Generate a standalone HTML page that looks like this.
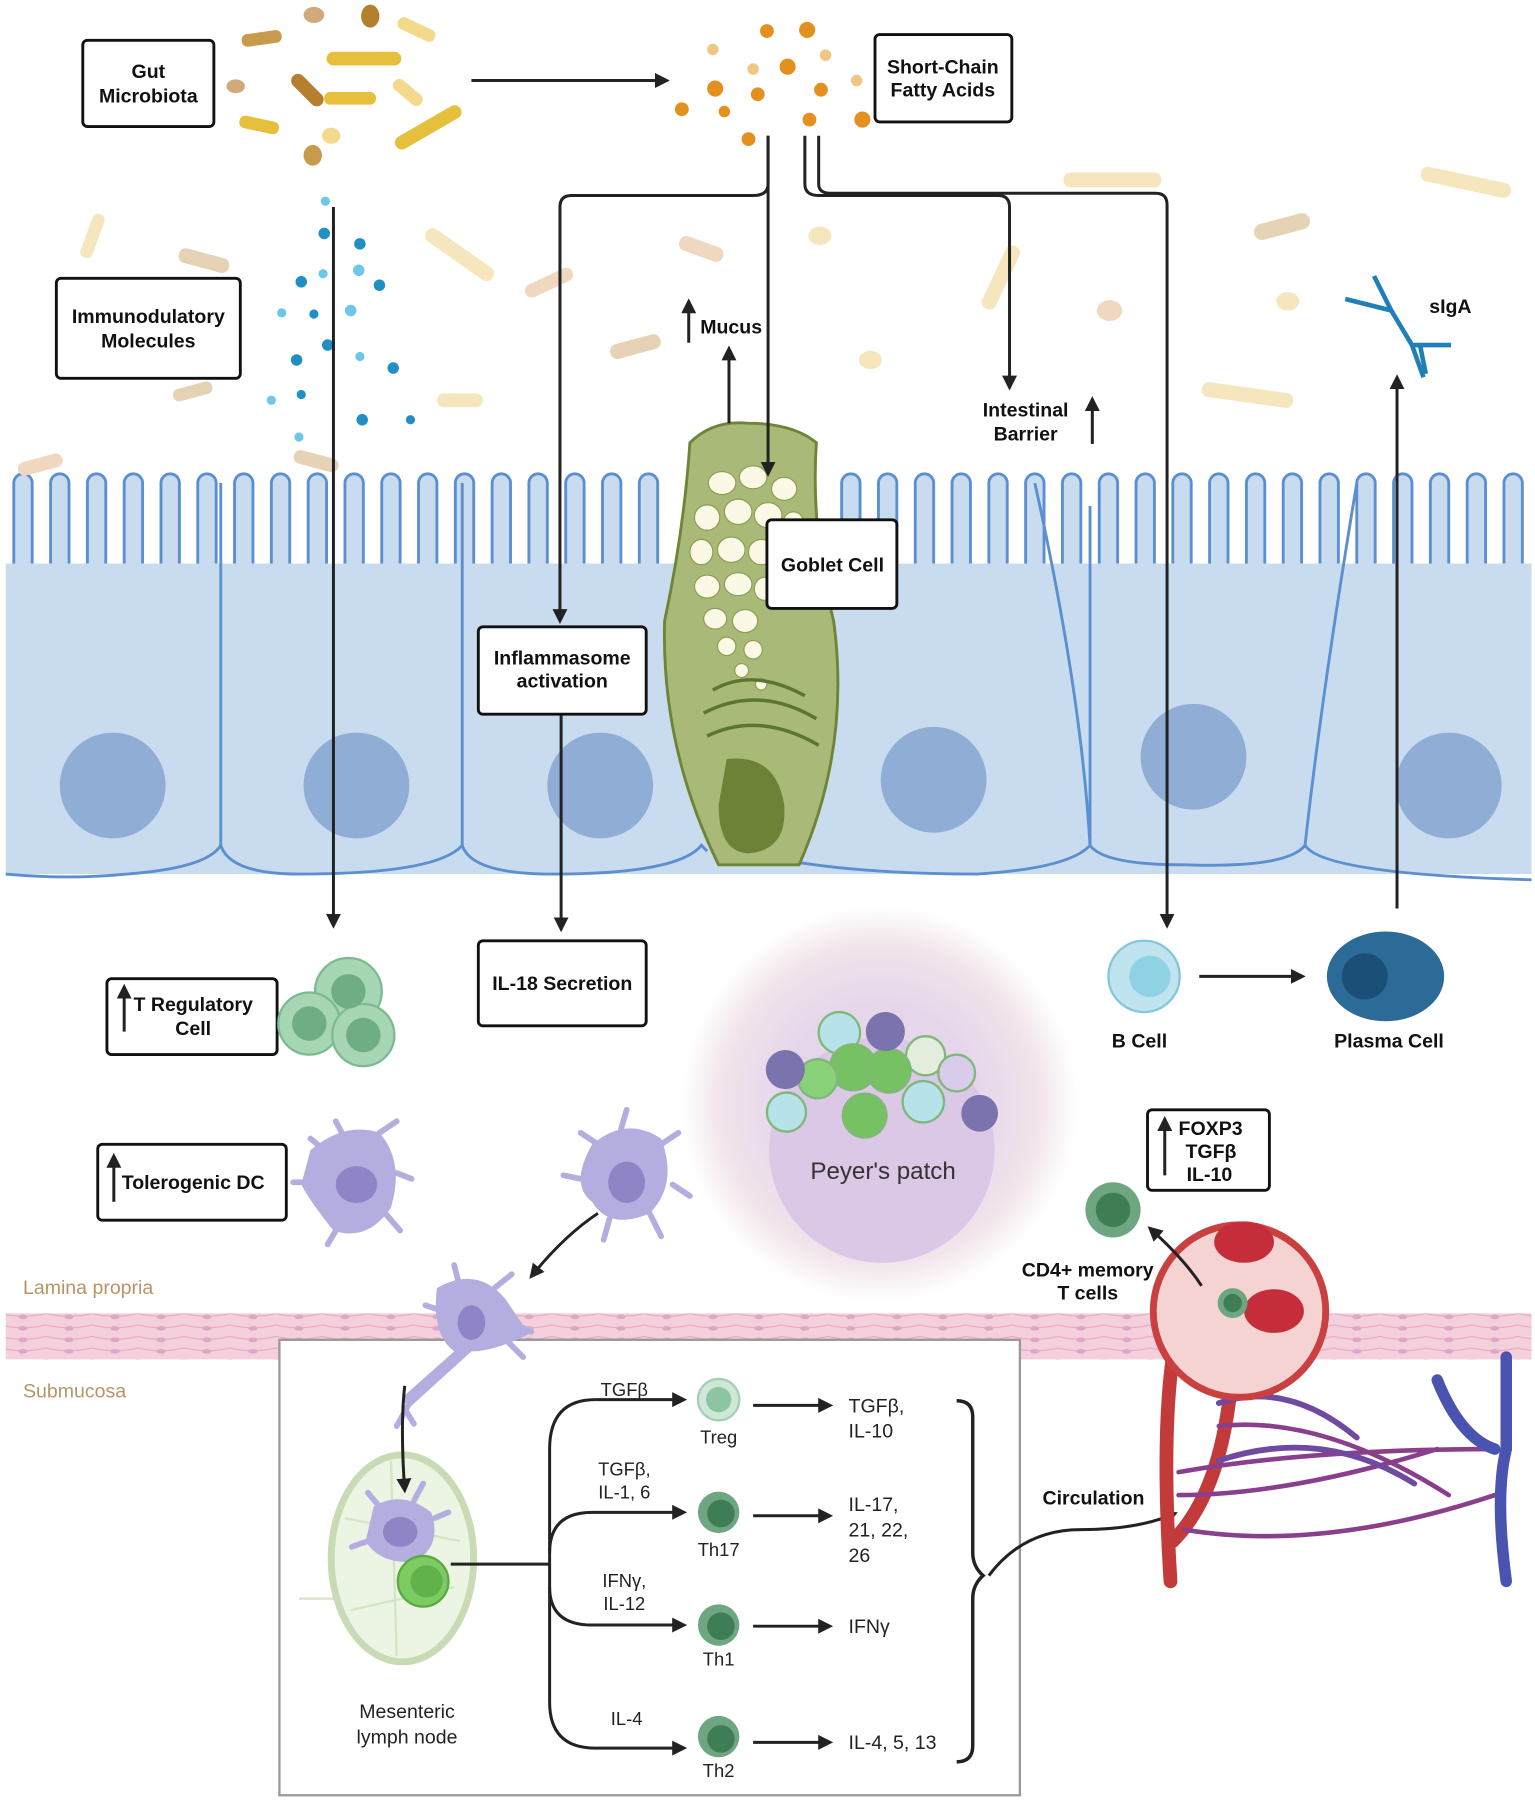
<!DOCTYPE html>
<html><head><meta charset="utf-8"><style>
html,body{margin:0;padding:0;background:#fff}
svg{display:block}
text{font-family:"Liberation Sans",sans-serif}
.b{font-weight:bold;font-size:17px;fill:#111}
.n{font-size:17px;fill:#222}
.box{fill:#fff;stroke:#111;stroke-width:2.5}
.ar{stroke:#222;stroke-width:2.6;fill:none}
.sp{stroke:#b4ade0;stroke-width:5;stroke-linecap:round;fill:none}
</style></head><body>
<svg width="1535" height="1801" viewBox="0 0 1335 1566" preserveAspectRatio="none" xmlns="http://www.w3.org/2000/svg">
<defs>
<marker id="m" viewBox="0 0 10 10" refX="8" refY="5" markerWidth="5" markerHeight="5" orient="auto"><path d="M0,0L10,5L0,10z" fill="#222"/></marker>
<pattern id="lp" x="0" y="0" width="40" height="10" patternUnits="userSpaceOnUse">
<rect width="40" height="10" fill="#f4cfdc"/><ellipse cx="20" cy="5" rx="4" ry="2" fill="#d9a6c6"/><path d="M0,2Q20,7 40,2" stroke="#e7a8c0" fill="none"/>
</pattern>
<radialGradient id="pp"><stop offset="0.5" stop-color="#e6d6ec"/><stop offset="0.8" stop-color="#f1e4ea"/><stop offset="1" stop-color="#fff"/></radialGradient>
</defs>
<rect width="1335" height="1566" fill="#fff"/>

<!-- epithelium -->
<rect x="5" y="490" width="1327" height="270" fill="#c9dcef"/>
<g>
<rect x="5" y="400" width="1327" height="95" fill="#fff"/>
<g fill="#c9dcef" stroke="#5b8fd0" stroke-width="2.5">
<path d="M12,495 V420 a8,8 0 0 1 16,0 V490 M44,495 V420 a8,8 0 0 1 16,0 V490 M76,495 V420 a8,8 0 0 1 16,0 V490 M108,495 V420 a8,8 0 0 1 16,0 V490 M140,495 V420 a8,8 0 0 1 16,0 V490 M172,495 V420 a8,8 0 0 1 16,0 V490 M204,495 V420 a8,8 0 0 1 16,0 V490 M236,495 V420 a8,8 0 0 1 16,0 V490 M268,495 V420 a8,8 0 0 1 16,0 V490 M300,495 V420 a8,8 0 0 1 16,0 V490 M332,495 V420 a8,8 0 0 1 16,0 V490 M364,495 V420 a8,8 0 0 1 16,0 V490 M396,495 V420 a8,8 0 0 1 16,0 V490 M428,495 V420 a8,8 0 0 1 16,0 V490 M460,495 V420 a8,8 0 0 1 16,0 V490 M492,495 V420 a8,8 0 0 1 16,0 V490 M524,495 V420 a8,8 0 0 1 16,0 V490 M556,495 V420 a8,8 0 0 1 16,0 V490 M732,495 V420 a8,8 0 0 1 16,0 V490 M764,495 V420 a8,8 0 0 1 16,0 V490 M796,495 V420 a8,8 0 0 1 16,0 V490 M828,495 V420 a8,8 0 0 1 16,0 V490 M860,495 V420 a8,8 0 0 1 16,0 V490 M892,495 V420 a8,8 0 0 1 16,0 V490 M924,495 V420 a8,8 0 0 1 16,0 V490 M956,495 V420 a8,8 0 0 1 16,0 V490 M988,495 V420 a8,8 0 0 1 16,0 V490 M1020,495 V420 a8,8 0 0 1 16,0 V490 M1052,495 V420 a8,8 0 0 1 16,0 V490 M1084,495 V420 a8,8 0 0 1 16,0 V490 M1116,495 V420 a8,8 0 0 1 16,0 V490 M1148,495 V420 a8,8 0 0 1 16,0 V490 M1180,495 V420 a8,8 0 0 1 16,0 V490 M1212,495 V420 a8,8 0 0 1 16,0 V490 M1244,495 V420 a8,8 0 0 1 16,0 V490 M1276,495 V420 a8,8 0 0 1 16,0 V490 M1308,495 V420 a8,8 0 0 1 16,0 V490"/>
</g>
<rect x="5" y="490" width="1327" height="8" fill="#c9dcef"/>
</g>
<g stroke="#5b8fd0" stroke-width="2.5" fill="none">
<path d="M5,760 Q60,765 110,760 Q180,755 192,735 Q200,760 260,760 Q380,760 402,735 Q410,760 480,760 Q590,760 610,735 L615,740 M695,750 Q760,760 850,760 Q930,755 948,735 Q960,752 1030,752 Q1120,755 1135,735 Q1150,760 1332,765"/>
<path d="M192,420 V735 M402,420 V735 M948,440 L948,735 M1135,735 Q1150,600 1180,420 M900,420 Q940,600 948,735"/>
</g>
<g fill="#8fadd5">
<circle cx="98" cy="683" r="46"/><circle cx="310" cy="683" r="46"/><circle cx="522" cy="683" r="46"/><circle cx="812" cy="678" r="46"/><circle cx="1038" cy="658" r="46"/><circle cx="1260" cy="683" r="46"/>
</g>

<!-- goblet cell -->
<path d="M600,385 Q620,365 650,368 Q690,368 710,385 Q705,460 725,540 Q740,650 695,752 H625 Q575,650 578,540 Q595,460 600,385Z" fill="#a9b978" stroke="#6e8436" stroke-width="2.5"/>
<g fill="#fbf8e6" stroke="#8a9c50">
<ellipse cx="628" cy="420" rx="12" ry="10"/><ellipse cx="655" cy="415" rx="12" ry="10"/><ellipse cx="682" cy="425" rx="11" ry="10"/><ellipse cx="615" cy="450" rx="11" ry="11"/><ellipse cx="642" cy="445" rx="12" ry="11"/><ellipse cx="668" cy="448" rx="12" ry="11"/><ellipse cx="690" cy="455" rx="9" ry="10"/><ellipse cx="610" cy="480" rx="10" ry="11"/><ellipse cx="636" cy="478" rx="12" ry="11"/><ellipse cx="662" cy="480" rx="11" ry="11"/><ellipse cx="615" cy="510" rx="11" ry="10"/><ellipse cx="642" cy="508" rx="12" ry="10"/><ellipse cx="665" cy="512" rx="9" ry="10"/><ellipse cx="622" cy="538" rx="10" ry="9"/><ellipse cx="648" cy="540" rx="11" ry="10"/><ellipse cx="632" cy="562" rx="8" ry="8"/><ellipse cx="655" cy="565" rx="8" ry="8"/><ellipse cx="645" cy="583" rx="6" ry="6"/><ellipse cx="662" cy="595" rx="5" ry="5"/>
</g>
<g stroke="#5c7530" stroke-width="3" fill="none"><path d="M620,600 Q655,580 700,605 M612,620 Q660,595 710,625 M615,640 Q660,618 712,648"/></g>
<path d="M632,660 Q675,655 682,700 Q685,740 650,742 Q625,740 625,700Z" fill="#6d8236"/>

<!-- top bacteria & SCFA -->
<g fill="#d4a84a">
<rect x="210" y="28" width="35" height="11" rx="5" fill="#c79a4c" transform="rotate(-8 227 33)"/>
<rect x="284" y="45" width="65" height="12" rx="6" fill="#e6c03c"/>
<rect x="250" y="72" width="35" height="12" rx="6" fill="#b5802e" transform="rotate(45 267 78)"/>
<rect x="208" y="103" width="35" height="11" rx="5" fill="#e6c03c" transform="rotate(12 225 108)"/>
<rect x="340" y="105" width="65" height="12" rx="6" fill="#e6c03c" transform="rotate(-30 372 111)"/>
<rect x="282" y="80" width="45" height="11" rx="5" fill="#e6c03c"/>
<rect x="345" y="20" width="35" height="11" rx="5" fill="#f3d98c" transform="rotate(25 362 25)"/>
<rect x="340" y="75" width="30" height="11" rx="5" fill="#f3d98c" transform="rotate(40 355 80)"/>
<ellipse cx="273" cy="13" rx="9" ry="7" fill="#d1a97a"/><ellipse cx="322" cy="14" rx="8" ry="10" fill="#b5802e"/><ellipse cx="205" cy="75" rx="8" ry="6" fill="#d1a97a"/><ellipse cx="272" cy="135" rx="8" ry="9" fill="#c79a4c"/><ellipse cx="288" cy="118" rx="8" ry="7" fill="#f3d98c"/>
</g>
<g fill="#e3901e">
<circle cx="620" cy="43" r="5" fill="#f1c684"/><circle cx="667" cy="27" r="6"/><circle cx="702" cy="26" r="7"/><circle cx="685" cy="58" r="7"/><circle cx="718" cy="48" r="5" fill="#f1c684"/><circle cx="622" cy="77" r="7"/><circle cx="655" cy="60" r="5" fill="#f1c684"/><circle cx="659" cy="82" r="6"/><circle cx="714" cy="78" r="6"/><circle cx="593" cy="95" r="6"/><circle cx="630" cy="97" r="5"/><circle cx="745" cy="70" r="5" fill="#f1c684"/><circle cx="704" cy="104" r="6"/><circle cx="750" cy="104" r="7"/><circle cx="651" cy="121" r="6"/>
</g>
<g fill="#1f8fc4">
<circle cx="283" cy="175" r="4" fill="#6ec6ea"/><circle cx="282" cy="203" r="5"/><circle cx="313" cy="212" r="5"/><circle cx="262" cy="245" r="5"/><circle cx="281" cy="238" r="4" fill="#6ec6ea"/><circle cx="330" cy="248" r="5"/><circle cx="312" cy="235" r="5" fill="#6ec6ea"/><circle cx="245" cy="272" r="4" fill="#6ec6ea"/><circle cx="273" cy="273" r="4"/><circle cx="305" cy="270" r="5" fill="#6ec6ea"/><circle cx="258" cy="313" r="5"/><circle cx="285" cy="300" r="5"/><circle cx="313" cy="310" r="4" fill="#6ec6ea"/><circle cx="342" cy="320" r="5"/><circle cx="236" cy="348" r="4" fill="#6ec6ea"/><circle cx="262" cy="343" r="4"/><circle cx="315" cy="365" r="5"/><circle cx="357" cy="365" r="4"/><circle cx="260" cy="380" r="4" fill="#6ec6ea"/>
</g>
<g fill="#f5e6bd">
<rect x="60" y="200" width="40" height="11" rx="5" transform="rotate(-70 80 205)"/>
<rect x="365" y="215" width="70" height="13" rx="6" transform="rotate(35 400 221)"/>
<rect x="590" y="210" width="40" height="13" rx="6" fill="#efd7c0" transform="rotate(20 610 216)"/>
<rect x="925" y="150" width="85" height="13" rx="6"/>
<rect x="1235" y="152" width="80" height="13" rx="6" transform="rotate(12 1275 158)"/>
<rect x="840" y="235" width="60" height="13" rx="6" transform="rotate(-65 870 241)"/>
<rect x="1045" y="337" width="80" height="13" rx="6" transform="rotate(8 1085 343)"/>
<rect x="380" y="342" width="40" height="12" rx="6"/>
<rect x="455" y="240" width="45" height="12" rx="6" fill="#efd7c0" transform="rotate(-25 477 246)"/>
<rect x="15" y="398" width="40" height="12" rx="6" fill="#efd7c0" transform="rotate(-15 35 404)"/>
<ellipse cx="713" cy="205" rx="10" ry="8"/><ellipse cx="965" cy="270" rx="11" ry="9" fill="#efd7c0"/><ellipse cx="1120" cy="262" rx="10" ry="8"/><ellipse cx="757" cy="313" rx="10" ry="8"/>
<rect x="155" y="220" width="45" height="13" rx="6" fill="#e6d2b5" transform="rotate(15 177 226)"/>
<rect x="530" y="295" width="45" height="13" rx="6" fill="#e6d2b5" transform="rotate(-15 552 301)"/>
<rect x="1090" y="190" width="50" height="14" rx="7" fill="#e6d2b5" transform="rotate(-15 1115 197)"/>
<rect x="255" y="395" width="40" height="12" rx="6" fill="#e6d2b5" transform="rotate(15 275 401)"/>
<rect x="150" y="335" width="35" height="11" rx="5" fill="#e6d2b5" transform="rotate(-15 167 340)"/>
</g>

<!-- arrows top -->
<line x1="410" y1="70" x2="580" y2="70" class="ar" marker-end="url(#m)"/>
<path d="M668,118 V160 Q668,170 655,170 H497 Q487,170 487,180 V540" class="ar" marker-end="url(#m)"/>
<path d="M668,118 V412" class="ar" marker-end="url(#m)"/>
<path d="M700,118 V160 Q700,170 712,170 H868 Q878,170 878,180 V337" class="ar" marker-end="url(#m)"/>
<path d="M712,118 V160 Q712,168 722,168 H1005 Q1015,168 1015,178 V805" class="ar" marker-end="url(#m)"/>
<line x1="634" y1="368" x2="634" y2="303" class="ar" marker-end="url(#m)"/>
<line x1="290" y1="180" x2="290" y2="805" class="ar" marker-end="url(#m)"/>
<line x1="488" y1="620" x2="488" y2="808" class="ar" marker-end="url(#m)"/>
<line x1="1215" y1="790" x2="1215" y2="328" class="ar" marker-end="url(#m)"/>
<line x1="1043" y1="849" x2="1133" y2="849" class="ar" marker-end="url(#m)"/>

<!-- boxes -->
<rect x="72" y="35" width="114" height="75" rx="4" class="box"/>
<text x="129" y="68" class="b" text-anchor="middle">Gut</text><text x="129" y="89" class="b" text-anchor="middle">Microbiota</text>
<rect x="761" y="30" width="119" height="76" rx="4" class="box"/>
<text x="820" y="64" class="b" text-anchor="middle">Short-Chain</text><text x="820" y="84" class="b" text-anchor="middle">Fatty Acids</text>
<rect x="49" y="242" width="160" height="87" rx="4" class="box"/>
<text x="129" y="281" class="b" text-anchor="middle">Immunodulatory</text><text x="129" y="302" class="b" text-anchor="middle">Molecules</text>
<text x="609" y="290" class="b">Mucus</text><line x1="599" y1="298" x2="599" y2="262" class="ar" stroke-width="1.6" marker-end="url(#m)"/>
<text x="892" y="362" class="b" text-anchor="middle">Intestinal</text><text x="892" y="383" class="b" text-anchor="middle">Barrier</text>
<line x1="950" y1="386" x2="950" y2="347" class="ar" stroke-width="1.6" marker-end="url(#m)"/>
<text x="1243" y="272" class="b">sIgA</text>
<rect x="667" y="452" width="113" height="77" rx="4" class="box"/>
<text x="724" y="497" class="b" text-anchor="middle">Goblet Cell</text>
<rect x="416" y="545" width="146" height="76" rx="4" class="box"/>
<text x="489" y="578" class="b" text-anchor="middle">Inflammasome</text><text x="489" y="598" class="b" text-anchor="middle">activation</text>
<rect x="416" y="818" width="146" height="74" rx="4" class="box"/>
<text x="489" y="861" class="b" text-anchor="middle">IL-18 Secretion</text>
<rect x="93" y="851" width="148" height="66" rx="4" class="box"/>
<text x="168" y="879" class="b" text-anchor="middle">T Regulatory</text><text x="168" y="900" class="b" text-anchor="middle">Cell</text>
<line x1="108" y1="897" x2="108" y2="858" class="ar" stroke-width="1.6" marker-end="url(#m)"/>
<rect x="85" y="995" width="164" height="66" rx="4" class="box"/>
<text x="168" y="1034" class="b" text-anchor="middle">Tolerogenic DC</text>
<line x1="99" y1="1045" x2="99" y2="1005" class="ar" stroke-width="1.6" marker-end="url(#m)"/>
<rect x="998" y="965" width="106" height="70" rx="4" class="box"/>
<text x="1025" y="987" class="b">FOXP3</text><text x="1031" y="1007" class="b">TGFβ</text><text x="1032" y="1027" class="b">IL-10</text>
<line x1="1013" y1="1022" x2="1013" y2="973" class="ar" stroke-width="1.6" marker-end="url(#m)"/>

<!-- sIgA -->
<g stroke="#1f7fb6" stroke-width="4" fill="none">
<path d="M1195,240 L1210,270 L1228,300 L1238,328 M1170,260 L1210,270 M1228,300 L1262,300 M1235,300 L1240,325"/>
</g>
<g stroke="#7dba91" stroke-width="2"><circle cx="303" cy="862" r="29" fill="#a6d6b4"/><circle cx="269" cy="890" r="27" fill="#a6d6b4"/><circle cx="316" cy="900" r="27" fill="#a6d6b4"/></g>
<g fill="#6fae85"><circle cx="303" cy="862" r="15"/><circle cx="269" cy="890" r="15"/><circle cx="316" cy="900" r="15"/></g>
<circle cx="995" cy="849" r="31" fill="#bfe4ef" stroke="#86c6da" stroke-width="2"/><circle cx="1000" cy="849" r="18" fill="#8fd2e4"/>
<text x="991" y="911" class="b" text-anchor="middle">B Cell</text>
<ellipse cx="1205" cy="849" rx="51" ry="39" fill="#2c6a97"/><circle cx="1187" cy="849" r="20" fill="#1c4f78"/>
<text x="1208" y="911" class="b" text-anchor="middle">Plasma Cell</text>

<!-- Peyer's patch -->
<circle cx="765" cy="960" r="172" fill="url(#pp)"/>
<circle cx="767" cy="1000" r="98" fill="#dbc8e6"/>
<g stroke="#7fb877" stroke-width="2">
<circle cx="730" cy="898" r="18" fill="#b7e2ea"/><circle cx="805" cy="918" r="17" fill="#e4eddd"/><circle cx="742" cy="928" r="20" fill="#76c262"/><circle cx="773" cy="931" r="19" fill="#76c262"/><circle cx="711" cy="938" r="17" fill="#8ad27a"/><circle cx="803" cy="958" r="18" fill="#b7e2ea"/><circle cx="684" cy="967" r="17" fill="#b7e2ea"/><circle cx="752" cy="970" r="19" fill="#76c262"/><circle cx="832" cy="933" r="16" fill="#d8ccea"/>
</g>
<g fill="#7b73ad"><circle cx="683" cy="930" r="17"/><circle cx="770" cy="897" r="17"/><circle cx="852" cy="968" r="16"/></g>
<text x="768" y="1025" font-size="21" fill="#333" text-anchor="middle">Peyer's patch</text>

<!-- DCs upper -->
<path class="sp" d="M300,990 L292,975 M330,985 L345,975 M345,1020 L358,1025 M335,1055 L348,1070 M295,1065 L285,1082 M268,1028 L255,1028 M282,1000 L270,990 M540,982 L545,965 M520,995 L505,985 M575,995 L590,985 M585,1030 L600,1040 M565,1055 L575,1075 M530,1060 L525,1078 M505,1025 L490,1022"/>
<g fill="#b4ade0"><path d="M270,1000 Q300,975 330,985 Q352,1010 340,1050 Q320,1080 290,1070 Q270,1045 262,1030 Z"/>
<path d="M515,995 Q545,970 575,990 Q590,1030 565,1055 Q530,1070 515,1045 Q495,1030 515,995 Z"/></g>
<g fill="#8e84c6"><ellipse cx="310" cy="1030" rx="18" ry="16"/><ellipse cx="545" cy="1028" rx="16" ry="18"/></g>
<path d="M520,1055 Q490,1075 462,1110" class="ar" marker-end="url(#m)"/>

<!-- lamina propria -->
<rect x="5" y="1142" width="1327" height="40" fill="url(#lp)"/>
<text x="20" y="1125" font-size="17" fill="#b89466">Lamina propria</text>
<text x="20" y="1215" font-size="17" fill="#b89466">Submucosa</text>

<!-- bottom box -->
<rect x="243" y="1165" width="644" height="396" fill="#fff" stroke="#999" stroke-width="2"/>
<!-- DC crossing band -->
<path class="sp" d="M400,1120 L395,1100 M430,1120 L445,1108 M445,1150 L462,1158 M440,1165 L455,1180 M385,1140 L370,1135"/>
<path d="M380,1120 Q415,1100 440,1130 L460,1160 Q430,1175 410,1175 L355,1225 L350,1215 L395,1175 Q375,1160 380,1120 Z" fill="#b4ade0"/>
<ellipse cx="410" cy="1150" rx="12" ry="15" fill="#8e84c6"/>
<path d="M355,1222 L345,1240 M352,1225 L360,1238" class="sp"/>

<ellipse cx="350" cy="1355" rx="62" ry="90" fill="#ecf4e3" stroke="#c8dbb4" stroke-width="6"/>
<g stroke="#d5e4c6" stroke-width="2" fill="none"><path d="M300,1320 L400,1340 M305,1400 L395,1380 M340,1270 L345,1440 M260,1390 L290,1390 M400,1360 L460,1360"/></g>
<path d="M352,1205 Q348,1240 352,1296" class="ar" marker-end="url(#m)"/>
<path class="sp" d="M330,1310 L320,1298 M360,1305 L368,1290 M378,1320 L390,1315 M320,1340 L306,1345"/>
<path d="M325,1310 Q350,1295 375,1315 Q385,1345 360,1358 Q330,1360 318,1340 Z" fill="#b4ade0"/><ellipse cx="348" cy="1332" rx="15" ry="13" fill="#8e84c6"/>
<circle cx="368" cy="1375" r="22" fill="#7dcc62" stroke="#5ba845" stroke-width="2"/><circle cx="371" cy="1375" r="14" fill="#62b24c"/>
<text x="354" y="1494" class="n" text-anchor="middle" font-size="19">Mesenteric</text><text x="354" y="1516" class="n" text-anchor="middle" font-size="19">lymph node</text>
<path d="M392,1360 H478" class="ar"/>
<path d="M518,1217 Q478,1217 478,1260 V1480 Q478,1520 518,1520 H595" class="ar" marker-end="url(#m)"/>
<path d="M518,1217 H595" class="ar" marker-end="url(#m)"/>
<path d="M478,1350 Q478,1315 515,1315 H595" class="ar" marker-end="url(#m)"/>
<path d="M478,1380 Q478,1413 515,1413 H595" class="ar" marker-end="url(#m)"/>
<g font-size="16" fill="#222" text-anchor="middle">
<text x="543" y="1214">TGFβ</text><text x="543" y="1283">TGFβ,</text><text x="543" y="1303">IL-1, 6</text><text x="543" y="1380">IFNγ,</text><text x="543" y="1400">IL-12</text><text x="545" y="1500">IL-4</text>
<text x="625" y="1255">Treg</text><text x="625" y="1353">Th17</text><text x="625" y="1448">Th1</text><text x="625" y="1545">Th2</text>
</g>
<circle cx="625" cy="1217" r="18" fill="#cde8d7" stroke="#a6d0b6" stroke-width="2"/><circle cx="625" cy="1217" r="11" fill="#8dc4a2"/>
<g fill="#6fa682"><circle cx="625" cy="1315" r="18"/><circle cx="625" cy="1413" r="18"/><circle cx="625" cy="1510" r="18"/></g>
<g fill="#3f7d57"><circle cx="627" cy="1316" r="12"/><circle cx="627" cy="1414" r="12"/><circle cx="627" cy="1512" r="12"/></g>
<path d="M655,1222 H722" class="ar" marker-end="url(#m)"/><path d="M655,1318 H722" class="ar" marker-end="url(#m)"/><path d="M655,1414 H722" class="ar" marker-end="url(#m)"/><path d="M655,1515 H722" class="ar" marker-end="url(#m)"/>
<g font-size="17" fill="#222"><text x="738" y="1228">TGFβ,</text><text x="738" y="1250">IL-10</text><text x="738" y="1314">IL-17,</text><text x="738" y="1336">21, 22,</text><text x="738" y="1358">26</text><text x="738" y="1420">IFNγ</text><text x="738" y="1521">IL-4, 5, 13</text></g>
<path d="M832,1218 Q846,1218 846,1232 V1350 Q846,1362 855,1370 Q846,1378 846,1390 V1518 Q846,1532 832,1532" stroke="#222" stroke-width="3" fill="none"/>
<path d="M860,1370 Q890,1330 940,1330 Q990,1330 1022,1316" class="ar" marker-end="url(#m)"/>
<text x="951" y="1308" class="b" text-anchor="middle">Circulation</text>

<!-- blood vessels -->
<g fill="none" stroke-linecap="round">
<path d="M1020,1180 Q1010,1250 1018,1375 M1070,1210 Q1060,1300 1020,1340" stroke="#c23a3a" stroke-width="12"/>
<path d="M1025,1300 Q1120,1300 1250,1260 M1025,1280 Q1140,1260 1300,1260 M1030,1330 Q1150,1350 1300,1300 M1060,1240 Q1150,1230 1260,1300" stroke="#8a3f8c" stroke-width="4"/>
<path d="M1310,1180 V1260 Q1300,1300 1310,1375 M1250,1200 Q1270,1250 1300,1260" stroke="#4a53b0" stroke-width="10"/>
<path d="M1060,1220 Q1120,1200 1180,1250 M1060,1270 Q1150,1240 1230,1290" stroke="#6f4aa0" stroke-width="5"/>
</g>
<circle cx="1078" cy="1140" r="75" fill="#f5d3d3" stroke="#c94040" stroke-width="6"/>
<ellipse cx="1082" cy="1080" rx="26" ry="18" fill="#c62d3a"/><ellipse cx="1108" cy="1140" rx="26" ry="19" fill="#c62d3a"/>
<circle cx="1072" cy="1133" r="13" fill="#6fa682"/><circle cx="1072" cy="1133" r="8" fill="#3f7d57"/>
<circle cx="968" cy="1052" r="24" fill="#6fa682"/><circle cx="968" cy="1052" r="15" fill="#3f7d57"/>
<path d="M1045,1118 Q1030,1095 1000,1068" class="ar" marker-end="url(#m)"/>
<text x="946" y="1110" class="b" text-anchor="middle">CD4+ memory</text><text x="946" y="1130" class="b" text-anchor="middle">T cells</text>
</svg>
</body></html>
